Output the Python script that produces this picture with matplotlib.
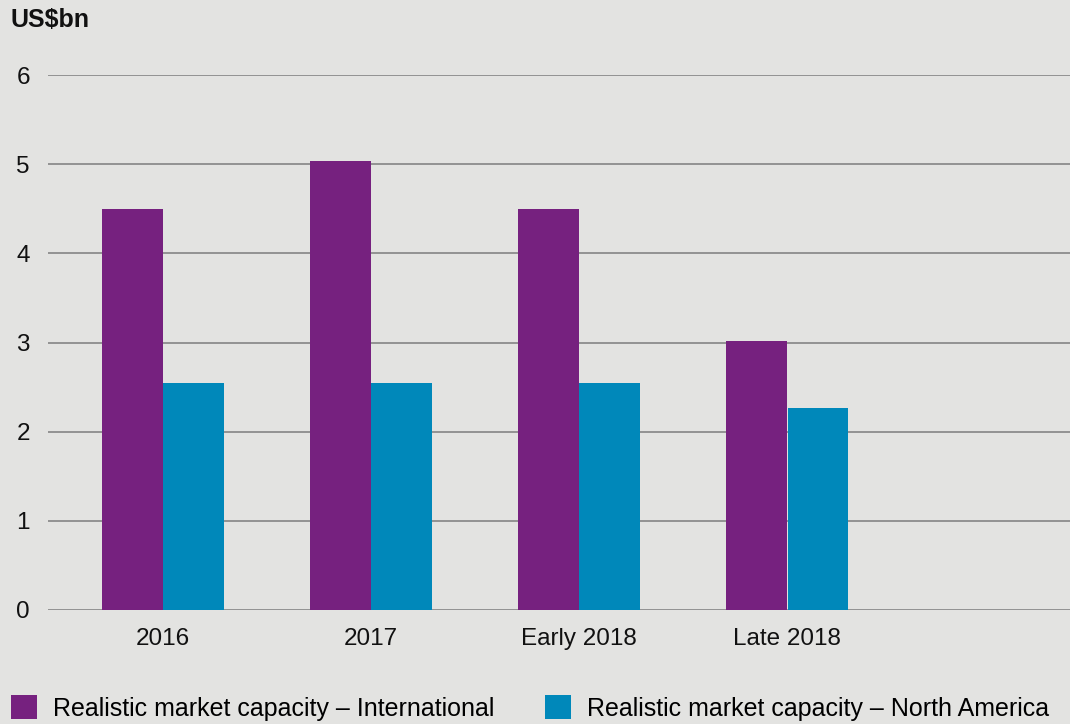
import numpy as np
import matplotlib.pyplot as plt

plt.rcParams['font.family'] = ['Liberation Sans', 'DejaVu Sans']

categories = ["2016", "2017", "Early 2018", "Late 2018"]
international = [4.5, 5.03, 4.5, 3.02]
north_america = [2.55, 2.55, 2.55, 2.27]
series_labels = ["Realistic market capacity \u2013 International",
                 "Realistic market capacity \u2013 North America"]

bg = "#e3e3e1"
purple = "#76217f"
blue = "#0088ba"

fig = plt.figure(figsize=(10.7, 7.24), dpi=100, facecolor=bg)
ax = fig.add_axes([48 / 1070, 1 - 610 / 724, 1 - 48 / 1070, (610 - 75) / 724])
ax.set_facecolor(bg)

x = np.arange(len(categories))
w = 0.293
b1 = ax.bar(x - w / 2 - 0.002, international, w, color=purple, label=series_labels[0], zorder=3)
b2 = ax.bar(x + w / 2 + 0.002, north_america, w, color=blue, label=series_labels[1], zorder=3)

ax.set_ylim(0, 6)
ax.set_xlim(-0.553, 4.36)
ax.set_yticks(range(7))
ax.set_xticks(x)
ax.set_xticklabels(categories)
ax.yaxis.grid(True, color="#8c8c8c", lw=1.3, zorder=1)
ax.set_axisbelow(True)
for s in ax.spines.values():
    s.set_visible(False)
ax.tick_params(axis="both", length=0, labelsize=17.5, colors="#111111")
ax.tick_params(axis="y", pad=13)
ax.tick_params(axis="x", pad=13)

fig.text(10 / 1070, 1 - 20 / 724, "US$bn", fontsize=18, fontweight="bold",
         va="center", ha="left", color="#111111")

fig.legend(handles=[b1, b2], loc="center left", bbox_to_anchor=(11 / 1070, 1 - 708 / 724),
           ncol=2, frameon=False, fontsize=18, handlelength=1.05, handleheight=1.05,
           handletextpad=0.64, columnspacing=2.0, borderpad=0, borderaxespad=0)

fig.savefig("out.png", dpi=100, facecolor=bg)
